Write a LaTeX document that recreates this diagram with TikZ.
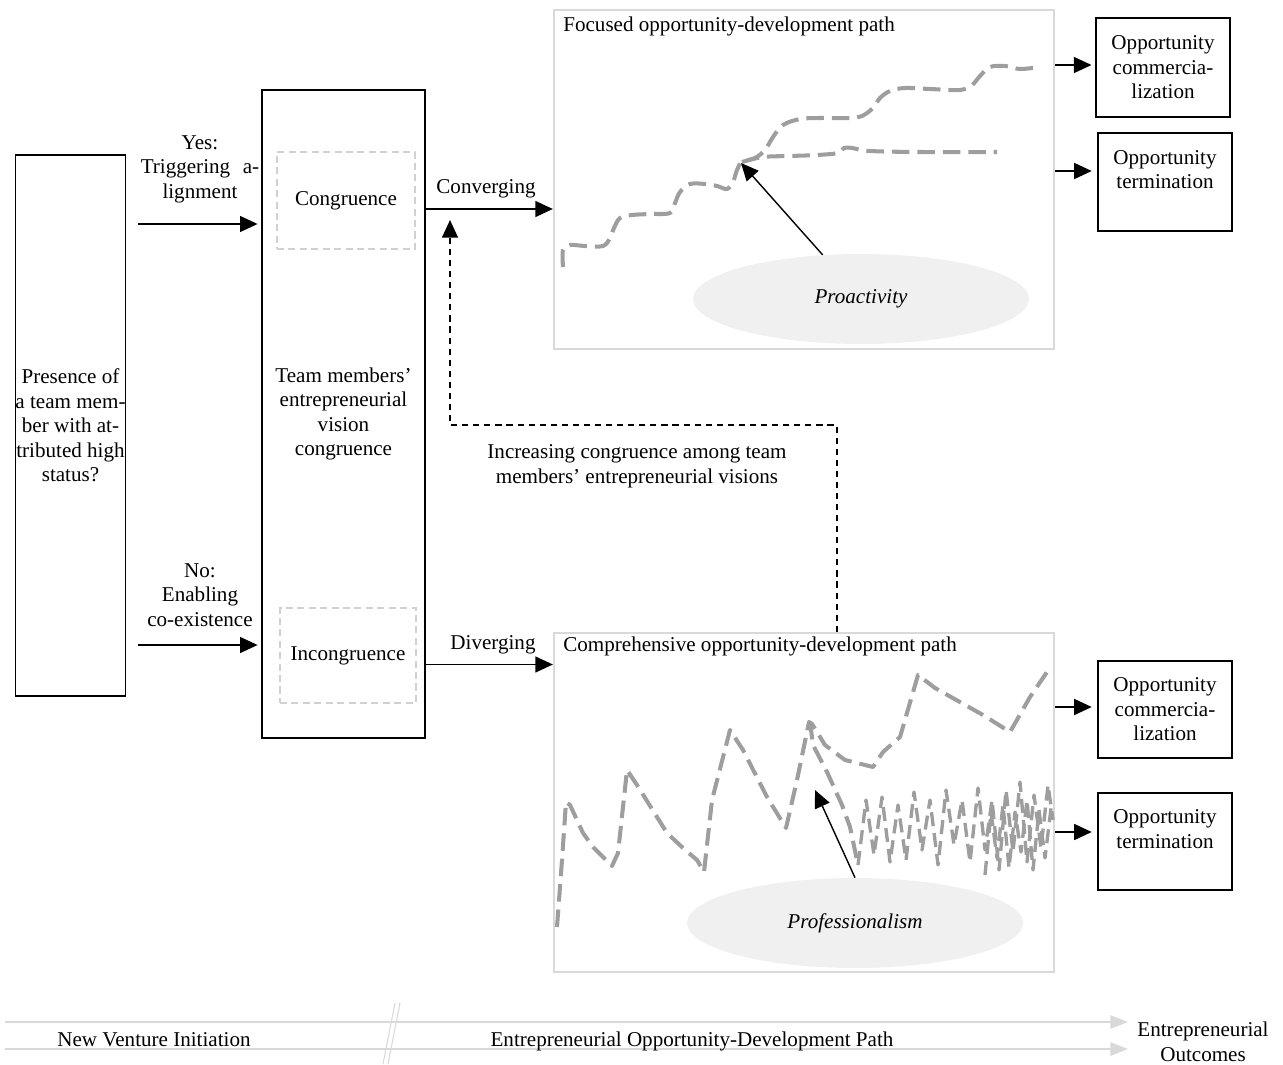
\documentclass[tikz,border=0pt]{standalone}
\usepackage{fontspec}
\setmainfont{Liberation Serif}
\usetikzlibrary{arrows.meta,shapes.geometric}
\begin{document}
\begin{tikzpicture}[x=0.02cm,y=-0.02cm, font=\fontsize{12pt}{14pt}\selectfont,
 box/.style={draw=black, line width=1pt, inner sep=0pt, align=center},
 subbox/.style={draw=black!18, dash pattern=on 4pt off 2.5pt, line width=0.8pt, inner sep=0pt, align=center},
 pathbox/.style={draw=black!15, line width=1.3pt, inner sep=0pt, minimum width=10cm, minimum height=6.78cm},
 outbox/.style={draw=black, line width=1.1pt, inner sep=0pt, align=center, minimum width=2.68cm},
 arr/.style={line width=1.1pt, -{Triangle[length=10pt,width=9pt]}},
 thinarr/.style={line width=0.8pt, -{Triangle[length=10pt,width=9pt]}},
 track/.style={draw=black!38, line width=2.3pt, dash pattern=on 10pt off 4.5pt, line join=round},
 thintrack/.style={draw=black!38, line width=1.9pt, dash pattern=on 8pt off 4pt, line join=round},
 lbl/.style={align=center, inner sep=0pt},
 blob/.style={ellipse, fill=black!6, minimum width=6.72cm, minimum height=1.8cm, inner sep=0pt},
 timeline/.style={draw=black!15, line width=1.3pt, -{Triangle[length=10pt,width=7.5pt]}},
]
\useasboundingbox (0,0) rectangle (1283,1064);

% main boxes
\node[box, minimum width=2.14cm, minimum height=10.82cm] (pres) at (70.5,425.5) {Presence of\\a team mem-\\ber with at-\\tributed high\\status?};
\node[box, minimum width=3.26cm, minimum height=12.96cm] (team) at (343.5,414) {Team members’\\entrepreneurial\\vision\\congruence};
\node[subbox, minimum width=2.76cm, minimum height=1.94cm] (cong) at (346,200.5) {Congruence};
\node[subbox, minimum width=2.72cm, minimum height=1.9cm] (incong) at (348,655.5) {Incongruence};

% path boxes
\node[pathbox] (focus) at (804,179.5) {};
\node[lbl, anchor=west] (focust) at (563,26) {Focused opportunity-development path};
\node[pathbox] (comp) at (804,802.5) {};
\node[lbl, anchor=west] (compt) at (563,646) {Comprehensive opportunity-development path};

% outcome boxes
\node[outbox, minimum height=1.98cm] (oc1) at (1163,67.5) {Opportunity\\commercia-\\lization};
\node[outbox, minimum height=1.96cm] (ot1) at (1165,182) {Opportunity\\termination\\~};
\node[outbox, minimum height=1.94cm] (oc2) at (1165,709.5) {Opportunity\\commercia-\\lization};
\node[outbox, minimum height=1.94cm] (ot2) at (1165,841.5) {Opportunity\\termination\\~};

% ellipses
\node[blob] (proa) at (861,299) {\itshape Proactivity};
\node[blob] (prof) at (855,923) {\itshape Professionalism};

% labels
\node[lbl] (yesl) at (200,169) {Yes:\\Triggering\hspace{0.6em}a-\\lignment};
\node[lbl] (nol) at (200,595) {No:\\Enabling\\co-existence};
\node[lbl] (convl) at (486,189) {Converging};
\node[lbl] (divl) at (493,645) {Diverging};
\node[lbl] (incl) at (637,466) {Increasing congruence among team\\members’ entrepreneurial visions};

% helper coordinates
\coordinate (yYes) at (138,224);
\coordinate (yNo) at (138,645);
\coordinate (yConv) at (0,209);
\coordinate (yDiv) at (0,664.5);
\coordinate (yO1) at (0,65);
\coordinate (yO2) at (0,171);
\coordinate (yO3) at (0,707);
\coordinate (yO4) at (0,832);
\coordinate (fb1) at (837,425);
\coordinate (fb2) at (450,425);
\coordinate (fbtip) at (450,220);
\coordinate (tipA) at (741,163);
\coordinate (tipB) at (815,790);

% arrows
\draw[arr, shorten >=2pt] (yYes) -- (team.west |- yYes);
\draw[arr, shorten >=2pt] (yNo) -- (team.west |- yNo);
\draw[arr] (team.east |- yConv) -- (focus.west |- yConv);
\draw[arr] (team.east |- yDiv) -- (comp.west |- yDiv);
\draw[arr, shorten >=2pt] (focus.east |- yO1) -- (oc1.west |- yO1);
\draw[arr, shorten >=3pt] (focus.east |- yO2) -- (ot1.west |- yO2);
\draw[arr, shorten >=3pt] (comp.east |- yO3) -- (oc2.west |- yO3);
\draw[arr, shorten >=3pt] (comp.east |- yO4) -- (ot2.west |- yO4);
\draw[line width=1pt, dash pattern=on 3.5pt off 2.8pt, -{Triangle[length=10pt,width=9pt]}] (comp.north -| fb1) -- (fb1) -- (fb2) -- (fbtip);

% focused tracks
\draw[track] plot[smooth, tension=0.55] coordinates {(563,267) (563,250) (570,245) (585,246) (603,246) (610,238) (614,228) (620,218) (632,215) (650,214) (670,213) (675,203) (680,192) (690,184) (705,184) (717,186) (727,189) (733,182) (737,170) (742,162) (755,158) (765,150) (773,137) (783,125) (800,119) (820,118) (850,118) (862,116) (873,108) (880,98) (890,91) (905,88) (930,89) (960,90) (972,85) (980,76) (990,67) (1005,66) (1020,69) (1040,67)};
\draw[track] plot[smooth, tension=0.55] coordinates {(742,162) (763,157) (790,156) (817,155) (838,153) (844,148) (852,148) (870,151) (920,152) (997,152)};

% comprehensive tracks
\draw[track] (557,927) -- (562,860) -- (566,802) -- (570,805) -- (583,833) -- (593,847) -- (612,866) -- (618,853) -- (627,770) -- (637,785) -- (667,833) -- (683,848) -- (697,860) -- (704,872) -- (712,800) -- (730,730) -- (743,750) -- (767,797) -- (786,828) -- (797,780) -- (809,722) -- (812,724) -- (825,745) -- (845,760) -- (873,767) -- (883,752) -- (900,737) -- (918,675) -- (935,688) -- (983,715) -- (1010,732) -- (1030,697) -- (1047,672);
\draw[track] (810,722) -- (813,745) -- (827,772) -- (842,805) -- (850,827) -- (858,865);
\draw[thintrack] (858,865) -- (866,800) -- (874,855) -- (882,797) -- (890,862) -- (898,805) -- (906,860) -- (914,792) -- (922,850) -- (930,800) -- (938,865) -- (946,790) -- (954,845) -- (962,800) -- (970,862) -- (978,788) -- (985,850) -- (992,800) -- (999,870) -- (1006,790) -- (1013,852) -- (1020,782) -- (1027,862) -- (1034,795) -- (1041,848) -- (1048,785) -- (1053,820);
\draw[thintrack] (985,875) -- (991,812) -- (997,858) -- (1003,805) -- (1009,868) -- (1015,812) -- (1021,852) -- (1027,800) -- (1033,870) -- (1039,810) -- (1045,858) -- (1051,808);

% influence arrows
\draw[thinarr] (proa.131) -- (tipA);
\draw[thinarr] (prof.north) -- (tipB);

% timeline
\coordinate (tl1s) at (5,1022);
\coordinate (tl2s) at (5,1049);
\node[lbl] (eo) at (1203,1042) {Entrepreneurial\\Outcomes};
\coordinate (tl1e) at (1128,1022);
\coordinate (tl2e) at (1128,1049);
\draw[timeline] (tl1s) -- (tl1e);
\draw[timeline] (tl2s) -- (tl2e);
\coordinate (s1a) at (395,1003); \coordinate (s1b) at (383,1064);
\coordinate (s2a) at (400,1003); \coordinate (s2b) at (388,1064);
\draw[draw=black!15, line width=0.6pt] (s1a) -- (s1b) (s2a) -- (s2b);
\node[lbl] (nvi) at (154,1040) {New Venture Initiation};
\node[lbl] (eodp) at (692,1041) {Entrepreneurial Opportunity-Development Path};
\end{tikzpicture}
\end{document}
